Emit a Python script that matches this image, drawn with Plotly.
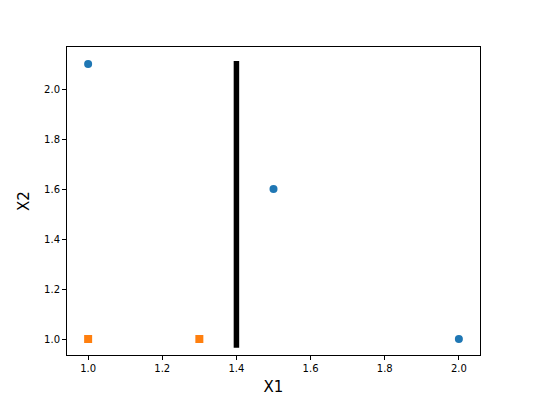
import plotly.graph_objects as go

class1_x = [1.0, 1.5, 2.0]
class1_y = [2.1, 1.6, 1.0]
class2_x = [1.0, 1.3]
class2_y = [1.0, 1.0]
boundary_x = [1.4, 1.4]
boundary_y = [0.965, 2.112]
x_ticks = [1.0, 1.2, 1.4, 1.6, 1.8, 2.0]
y_ticks = [1.0, 1.2, 1.4, 1.6, 1.8, 2.0]

fig = go.Figure()
fig.add_trace(go.Scatter(x=boundary_x, y=boundary_y, mode="lines",
                         line=dict(color="black", width=5.5), hoverinfo="skip"))
fig.add_trace(go.Scatter(x=class1_x, y=class1_y, mode="markers",
                         marker=dict(color="#1f77b4", size=8, symbol="circle")))
fig.add_trace(go.Scatter(x=class2_x, y=class2_y, mode="markers",
                         marker=dict(color="#ff7f0e", size=8, symbol="square")))

axis_common = dict(showgrid=False, zeroline=False, showline=True, linecolor="black",
                   linewidth=1, mirror=True, ticks="outside", ticklen=4, tickwidth=1,
                   tickcolor="black", automargin=False,
                   tickfont=dict(family="DejaVu Sans", size=10, color="black"))

fig.update_layout(
    width=525, height=392,
    margin=dict(l=59, r=53, t=39, b=45),
    paper_bgcolor="white", plot_bgcolor="white",
    showlegend=False,
    xaxis=dict(range=[0.943, 2.057], tickvals=x_ticks,
               ticktext=[f"{v:.1f}" for v in x_ticks],
               title=dict(text="X1", font=dict(family="DejaVu Sans", size=15, color="black"), standoff=8),
               **axis_common),
    yaxis=dict(range=[0.936, 2.168], tickvals=y_ticks,
               ticktext=[f"{v:.1f}" for v in y_ticks],
               title=dict(text="X2", font=dict(family="DejaVu Sans", size=15, color="black"), standoff=10),
               **axis_common),
)

fig.write_html("out.html")
